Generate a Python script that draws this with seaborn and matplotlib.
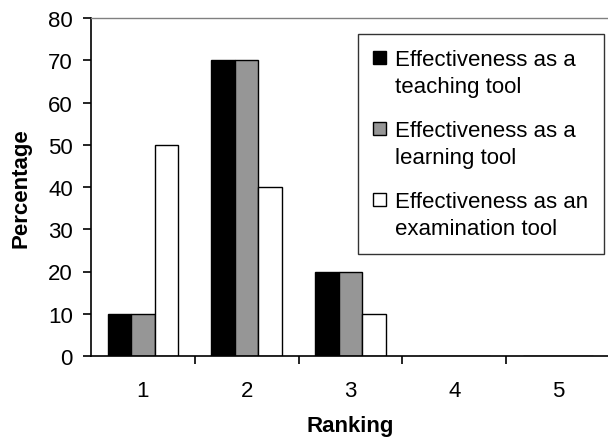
import matplotlib
matplotlib.use("Agg")
import matplotlib.pyplot as plt
import seaborn as sns
import pandas as pd
from matplotlib.ticker import FixedLocator
from matplotlib.patches import Rectangle
from matplotlib.legend_handler import HandlerPatch

rankings = ["1", "2", "3", "4", "5"]
series = ["Effectiveness as a\nteaching tool",
          "Effectiveness as a\nlearning tool",
          "Effectiveness as an\nexamination tool"]
teaching = [10, 70, 20, 0, 0]
learning = [10, 70, 20, 0, 0]
examination = [50, 40, 10, 0, 0]
colors = ["#000000", "#969696", "#ffffff"]

rows = []
for name, vals in zip(series, [teaching, learning, examination]):
    for r, v in zip(rankings, vals):
        rows.append({"Ranking": r, "Percentage": v, "Series": name})
df = pd.DataFrame(rows)

sns.set_style("white")
plt.rcParams['font.family'] = ['Liberation Sans', 'DejaVu Sans']
plt.rcParams['text.color'] = 'black'
plt.rcParams['axes.labelcolor'] = 'black'
plt.rcParams['xtick.color'] = 'black'
plt.rcParams['ytick.color'] = 'black'

FS = 16

fig = plt.figure(figsize=(6.08, 4.39), dpi=100)
ax = fig.add_axes([91/608, (439-357)/439, (610-91)/608, (357-19)/439])

sns.barplot(data=df, x="Ranking", y="Percentage", hue="Series",
            palette=colors, edgecolor="black", linewidth=1.0,
            width=0.68, saturation=1, ax=ax, legend=True)

ax.set_xlim(-0.5, 4.5)
ax.set_ylim(0, 80)
ax.set_yticks(range(0, 81, 10))
ax.tick_params(axis='y', labelsize=FS, direction='out', length=6, width=1.2, left=True, pad=7)
ax.tick_params(axis='x', which='major', labelsize=FS, length=0, pad=17)
ax.xaxis.set_minor_locator(FixedLocator([0.5, 1.5, 2.5, 3.5]))
ax.tick_params(axis='x', which='minor', direction='out', length=6, width=1.2, bottom=True)

for s in ['left', 'bottom']:
    ax.spines[s].set_color('black')
    ax.spines[s].set_linewidth(1.2)
ax.spines['top'].set_color('#808080')
ax.spines['top'].set_linewidth(1.0)
ax.spines['right'].set_visible(False)

ax.set_xlabel("Ranking", fontsize=FS, fontweight='bold', labelpad=10.5)
ax.set_ylabel("Percentage", fontsize=FS, fontweight='bold', labelpad=12)

SQ = 0.6 * FS


def top_square(legend, orig_handle, xdescent, ydescent, width, height, fontsize):
    return Rectangle((-xdescent, 0.45 * FS + 9.5 - SQ / 2), SQ, SQ)


handles, labels = ax.get_legend_handles_labels()
leg = ax.legend(handles, labels, loc='upper left',
                bbox_to_anchor=((358-91)/(610-91), (357-35)/(357-19)),
                frameon=True, fancybox=False, edgecolor='black',
                fontsize=FS, handlelength=0.6, handleheight=0.6,
                handletextpad=0.4, labelspacing=1.05, borderpad=0.68,
                borderaxespad=0,
                handler_map={Rectangle: HandlerPatch(patch_func=top_square)})
leg.get_frame().set_linewidth(1.0)
for t in leg.get_texts():
    t.set_linespacing(1.35)

fig.savefig("out.png", dpi=100)
